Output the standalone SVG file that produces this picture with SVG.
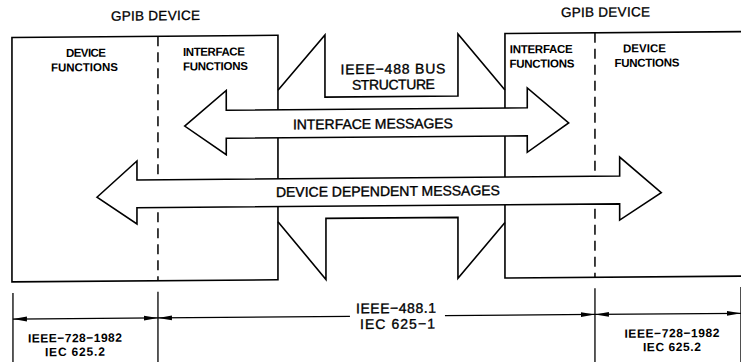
<svg xmlns="http://www.w3.org/2000/svg" width="741" height="362" viewBox="0 0 741 362">
  <style>
    .ln { fill: none; stroke: #000; stroke-width: 1.6; stroke-linejoin: miter; }
    .dash { fill: none; stroke: #000; stroke-width: 1.5; stroke-dasharray: 10 6; }
    .blk { fill: #fff; stroke: #000; stroke-width: 1.6; stroke-linejoin: miter; }
    .dim { fill: none; stroke: #000; stroke-width: 1.3; }
    text { font-family: "Liberation Sans", Arial, sans-serif; fill: #000; text-anchor: middle; }
    .big { font-size: 14px; stroke: #000; stroke-width: 0.35; }
    .hd { font-size: 13.5px; stroke: #000; stroke-width: 0.3; }
    .sm { font-size: 11.5px; font-weight: bold; }
    .ref { font-size: 12px; font-weight: bold; }
  </style>
  <defs>
    <marker id="tip" viewBox="-14 -3 15 6" refX="0" refY="0" markerWidth="15" markerHeight="6" markerUnits="userSpaceOnUse" orient="auto-start-reverse">
      <path d="M0,0 L-14,-2.4 L-14,2.4 Z" fill="#000"/>
    </marker>
  </defs>
  <rect width="741" height="362" fill="#fff"/>

  <!-- whole drawing sits on a very slight slope -->
  <g transform="matrix(1 -0.008 0 1 2.96 0)">

    <!-- left GPIB device -->
    <g id="device-left">
      <text class="hd" x="152.5" y="21.5" textLength="89" lengthAdjust="spacing">GPIB DEVICE</text>
      <rect class="ln" x="9" y="37.5" width="266" height="244.5"/>
      <line class="dash" x1="155" y1="37.5" x2="155" y2="282"/>
      <text class="sm" x="83" y="57.4" textLength="40" lengthAdjust="spacing">DEVICE</text>
      <text class="sm" x="81.5" y="71.9" textLength="67" lengthAdjust="spacing">FUNCTIONS</text>
      <text class="sm" x="211" y="57.4" textLength="62" lengthAdjust="spacing">INTERFACE</text>
      <text class="sm" x="212.5" y="71.9" textLength="65" lengthAdjust="spacing">FUNCTIONS</text>
    </g>

    <!-- right GPIB device -->
    <g id="device-right">
      <text class="hd" x="602.5" y="21.5" textLength="89" lengthAdjust="spacing">GPIB DEVICE</text>
      <rect class="ln" x="502" y="37.5" width="237" height="244.5"/>
      <line class="dash" x1="592" y1="37.5" x2="592" y2="282"/>
      <text class="sm" x="538.3" y="57.4" textLength="63" lengthAdjust="spacing">INTERFACE</text>
      <text class="sm" x="539" y="71.9" textLength="65" lengthAdjust="spacing">FUNCTIONS</text>
      <text class="sm" x="641.5" y="57.4" textLength="43" lengthAdjust="spacing">DEVICE</text>
      <text class="sm" x="644" y="71.9" textLength="65" lengthAdjust="spacing">FUNCTIONS</text>
    </g>

    <!-- IEEE-488 bus between the two devices -->
    <g id="bus">
      <polyline class="ln" points="275,92.5 322,37.5 322,99.7 455,99.7 455,37.5 502,94"/>
      <polyline class="ln" points="275,224 323,282 323,221 455,221 455,282 502,226.5"/>
      <text class="big" x="390" y="76.9" textLength="105" lengthAdjust="spacing">IEEE−488 BUS</text>
      <text class="big" x="390.5" y="92.5" textLength="83" lengthAdjust="spacing">STRUCTURE</text>
    </g>

    <!-- message flows -->
    <g id="connectors">
      <polygon class="blk" points="181.7,127.5 223.3,92.2 223.3,112 524.3,112 524.3,92.2 565.7,127.5 524.3,156.5 524.3,140 223.3,140 223.3,156.5"/>
      <text class="big" x="370" y="131.7" textLength="160" lengthAdjust="spacing">INTERFACE MESSAGES</text>
      <polygon class="blk" points="94,198 134,162 134,181 616.7,181 616.7,162 658.3,198 616.7,225 616.7,208.8 134,208.8 134,225"/>
      <text class="big" x="385" y="199.1" textLength="224" lengthAdjust="spacing">DEVICE DEPENDENT MESSAGES</text>
    </g>

    <!-- standards coverage dimensions -->
    <g id="dimensions">
      <line class="dim" x1="10" y1="293" x2="10" y2="370"/>
      <line class="dim" x1="155" y1="293" x2="155" y2="370"/>
      <line class="dim" x1="592" y1="293" x2="592" y2="370"/>
      <line class="dim" x1="738" y1="293" x2="738" y2="370"/>
      <line class="dim" x1="10" y1="319.2" x2="155" y2="319.2" marker-start="url(#tip)" marker-end="url(#tip)"/>
      <line class="dim" x1="155" y1="319.2" x2="347" y2="319.2" marker-start="url(#tip)"/>
      <line class="dim" x1="442" y1="319.2" x2="592" y2="319.2" marker-end="url(#tip)"/>
      <line class="dim" x1="592" y1="319.2" x2="738" y2="319.2" marker-start="url(#tip)" marker-end="url(#tip)"/>
      <text class="big" x="393" y="316.2" textLength="80" lengthAdjust="spacing">IEEE−488.1</text>
      <text class="big" x="394.5" y="331.9" textLength="75" lengthAdjust="spacing">IEC 625−1</text>
      <text class="ref" x="72" y="342.7" textLength="94" lengthAdjust="spacing">IEEE−728−1982</text>
      <text class="ref" x="72" y="356.5" textLength="60" lengthAdjust="spacing">IEC 625.2</text>
      <text class="ref" x="669" y="342.7" textLength="95" lengthAdjust="spacing">IEEE−728−1982</text>
      <text class="ref" x="669" y="356.5" textLength="58" lengthAdjust="spacing">IEC 625.2</text>
    </g>
  </g>
</svg>
